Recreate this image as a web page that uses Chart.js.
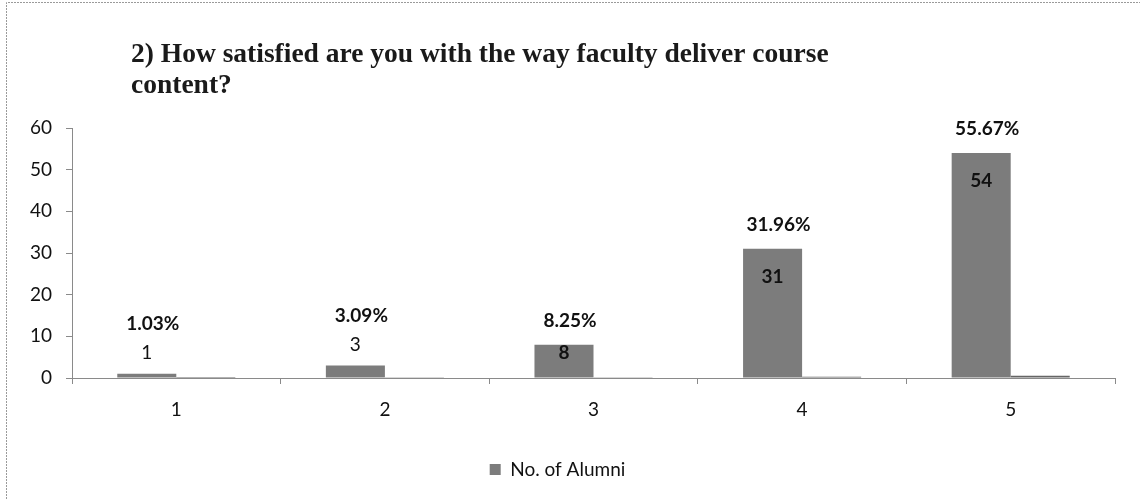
<!DOCTYPE html>
<html>
<head>
<meta charset="utf-8">
<script src="https://cdn.jsdelivr.net/npm/chart.js@4"></script>
<style>
  html, body { margin: 0; padding: 0; background: #fff; }
  #wrap { width: 1140px; height: 499px; position: relative; }
</style>
</head>
<body>
<div id="wrap"><canvas id="chart" width="1140" height="499"></canvas></div>
<script>
// chart data
const categories = ['1', '2', '3', '4', '5'];
const alumni = [1, 3, 8, 31, 54];
const percents = [1.03, 3.09, 8.25, 31.96, 55.67];
const yTicks = [0, 10, 20, 30, 40, 50, 60];
const titleLines = ['2) How satisfied are you with the way faculty deliver course', 'content?'];

const barColor = '#7c7c7c';
const axisColor = '#8a8a8a';
const sansFont = 'Lato, "Liberation Sans", sans-serif';

// outer frame + title
const framePlugin = {
  id: 'frame',
  beforeDraw(chart) {
    const c = chart.ctx;
    c.save();
    c.fillStyle = '#fff';
    c.fillRect(0, 0, chart.width, chart.height);
    c.strokeStyle = '#9a9a9a';
    c.lineWidth = 1;
    c.setLineDash([2, 1]);
    c.beginPath();
    c.moveTo(6.5, chart.height);
    c.lineTo(6.5, 2.5);
    c.lineTo(chart.width, 2.5);
    c.stroke();
    c.restore();
  },
  afterDraw(chart) {
    const c = chart.ctx;
    c.save();
    c.fillStyle = '#1a1a1a';
    c.font = 'bold 27.5px "Liberation Serif", serif';
    c.textBaseline = 'alphabetic';
    c.textAlign = 'left';
    c.fillText(titleLines[0], 131, 62);
    c.fillText(titleLines[1], 131, 93);
    c.restore();
  }
};

// value and percentage labels
const labelPlugin = {
  id: 'barLabels',
  afterDatasetsDraw(chart) {
    const c = chart.ctx;
    const bars = chart.getDatasetMeta(0).data;
    c.save();
    c.textAlign = 'center';
    c.textBaseline = 'middle';
    c.fillStyle = '#111';
    bars.forEach((bar, i) => {
      const h = bar.base - bar.y;
      let pctY;
      if (alumni[i] < 5) {
        c.font = '19px ' + sansFont;
        c.fillText(String(alumni[i]), bar.x, bar.y - 21);
        pctY = bar.y - 50;
      } else {
        c.font = 'bold 19px ' + sansFont;
        c.fillText(String(alumni[i]), bar.x, bar.y + Math.min(28, h * 0.25));
        pctY = bar.y - 24;
      }
      c.font = 'bold 19px ' + sansFont;
      c.fillText(percents[i].toFixed(2) + '%', bar.x + 6, pctY);
    });
    c.restore();
  }
};

const ctx = document.getElementById('chart').getContext('2d');
const chart = new Chart(ctx, {
  type: 'bar',
  data: {
    labels: categories,
    datasets: [
      {
        label: 'No. of Alumni',
        data: alumni,
        backgroundColor: barColor,
        borderWidth: 0
      },
      {
        label: 'Percentage',
        data: percents.map(p => p / 100),
        backgroundColor: '#666',
        borderWidth: 0
      }
    ]
  },
  options: {
    responsive: false,
    animation: false,
    devicePixelRatio: 1,
    layout: { padding: { left: 0, right: 25, top: 128, bottom: 10 } },
    datasets: {
      bar: { categoryPercentage: 0.566, barPercentage: 1 }
    },
    plugins: {
      title: { display: false },
      tooltip: { enabled: false },
      legend: {
        position: 'bottom',
        labels: {
          filter: item => item.datasetIndex === 0,
          boxWidth: 11,
          boxHeight: 11,
          padding: 8,
          color: '#111',
          font: { family: sansFont, size: 19 }
        }
      }
    },
    scales: {
      x: {
        grid: {
          display: true,
          drawOnChartArea: false,
          drawTicks: true,
          tickLength: 6,
          color: axisColor
        },
        border: { display: true, color: axisColor },
        ticks: {
          color: '#111',
          padding: 14,
          font: { family: sansFont, size: 19 }
        },
        afterFit(scale) { scale.height = 74; }
      },
      y: {
        min: 0,
        max: 60,
        afterBuildTicks(scale) { scale.ticks = yTicks.map(v => ({ value: v })); },
        grid: {
          display: true,
          drawOnChartArea: false,
          drawTicks: true,
          tickLength: 6,
          color: axisColor
        },
        border: { display: true, color: axisColor },
        ticks: {
          color: '#111',
          padding: 14,
          font: { family: sansFont, size: 19 }
        },
        afterFit(scale) { scale.width = 72; }
      }
    }
  },
  plugins: [framePlugin, labelPlugin]
});
</script>
</body>
</html>
